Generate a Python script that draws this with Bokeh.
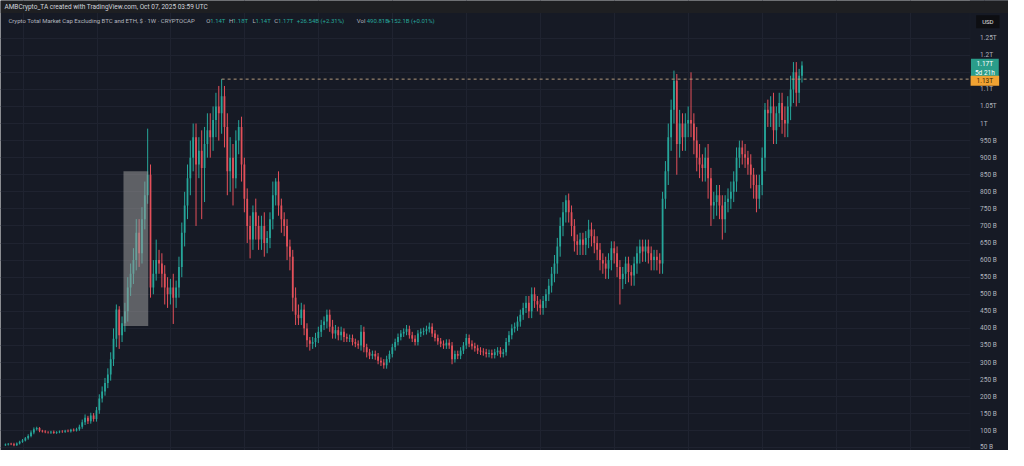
from bokeh.plotting import figure
from bokeh.models import ColumnDataSource, FixedTicker, Label, BoxAnnotation, Range1d, LinearAxis
from bokeh.embed import file_html
from bokeh.resources import INLINE

# ---------------- data (weekly candles, values in billions USD) ----------------
first_open = 58
close = [
    60, 62, 61, 58, 63, 68, 72, 78, 85, 95,
    105, 108, 100, 98, 96, 95, 97, 94, 96, 98,
    97, 100, 99, 103, 101, 105, 112, 125, 138, 128,
    145, 135, 160, 195, 215, 240, 265, 310, 370, 455,
    380, 415, 450, 520, 560, 600, 680, 620, 720, 790,
    850, 520, 560, 600, 590, 560, 520, 500, 520, 490,
    520, 580, 680, 760, 840, 900, 960, 880, 920, 870,
    940, 980, 960, 1010, 1050, 1030, 1080, 990, 860, 900,
    840, 950, 990, 880, 780, 700, 660, 740, 700, 660,
    700, 650, 665, 720, 790, 830, 760, 720, 700, 640,
    610, 490, 440, 430, 455, 400, 365, 355, 360, 372,
    390, 410, 420, 440, 405, 385, 395, 380, 390, 375,
    370, 372, 360, 355, 350, 390, 345, 330, 320, 325,
    318, 305, 300, 292, 310, 325, 345, 360, 375, 385,
    390, 398, 380, 370, 360, 385, 390, 392, 398, 405,
    385, 372, 362, 355, 350, 358, 350, 310, 325, 320,
    335, 350, 372, 355, 348, 342, 335, 332, 330, 325,
    328, 322, 330, 335, 325, 330, 360, 380, 400, 405,
    420, 440, 460, 475, 450, 500, 480, 470, 460, 480,
    500, 525, 560, 590, 640, 700, 740, 775, 740, 700,
    655, 645, 660, 645, 665, 690, 670, 650, 630, 600,
    590, 575, 600, 635, 620, 580, 545, 560, 590, 565,
    555, 590, 620, 640, 625, 640, 620, 600, 610, 600,
    590, 780, 860, 960, 1040, 1125, 940, 1000, 960, 1000,
    1010, 1000, 950, 900, 880, 870, 900, 840, 760, 770,
    790, 760, 720, 770, 780, 800, 830, 900, 930, 910,
    900, 880, 850, 820, 780, 820, 900, 1040, 1030, 1050,
    980, 1030, 1060, 1010, 1000, 1050, 1100, 1150, 1090, 1140,
    1170,
]
upper_wick = [
    3, 2, 3, 4, 3, 3, 4, 4, 5, 6,
    5, 4, 3, 3, 4, 3, 3, 4, 3, 3,
    4, 3, 4, 3, 4, 4, 6, 8, 10, 6,
    8, 7, 10, 12, 15, 15, 18, 20, 30, 15,
    10, 20, 25, 30, 30, 35, 40, 40, 35, 40,
    135, 30, 40, 60, 30, 30, 25, 30, 25, 40,
    20, 30, 30, 40, 40, 50, 40, 40, 40, 60,
    50, 50, 50, 40, 40, 60, 50, 30, 40, 60,
    40, 30, 20, 30, 20, 30, 30, 20, 40, 30,
    30, 40, 20, 20, 40, 10, 30, 20, 20, 20,
    20, 20, 30, 30, 20, 15, 15, 10, 15, 15,
    15, 15, 15, 15, 15, 20, 15, 10, 15, 10,
    10, 10, 10, 10, 10, 20, 15, 10, 10, 10,
    10, 10, 10, 10, 10, 10, 10, 10, 10, 10,
    10, 12, 10, 10, 10, 10, 10, 10, 10, 12,
    10, 10, 10, 10, 10, 10, 10, 10, 10, 10,
    10, 10, 12, 10, 10, 10, 10, 10, 10, 10,
    10, 10, 10, 10, 10, 10, 12, 12, 12, 12,
    15, 15, 15, 20, 20, 20, 20, 15, 15, 15,
    15, 20, 20, 25, 25, 25, 30, 15, 20, 20,
    20, 20, 20, 20, 20, 28, 20, 20, 20, 20,
    20, 20, 20, 20, 20, 20, 20, 20, 20, 20,
    20, 20, 20, 20, 20, 20, 20, 20, 20, 20,
    20, 20, 30, 40, 30, 30, 20, 40, 30, 30,
    40, 140, 30, 40, 40, 30, 30, 40, 30, 30,
    30, 30, 30, 20, 30, 30, 30, 30, 20, 20,
    30, 20, 30, 20, 30, 30, 30, 20, 30, 30,
    40, 20, 30, 30, 40, 30, 40, 30, 30, 20,
    12,
]
lower_wick = [
    2, 3, 3, 3, 2, 3, 3, 3, 4, 4,
    5, 4, 4, 3, 3, 3, 4, 3, 3, 3,
    3, 3, 3, 4, 3, 3, 5, 6, 8, 8,
    7, 8, 8, 10, 12, 12, 15, 18, 20, 25,
    40, 20, 25, 30, 25, 30, 30, 40, 30, 30,
    25, 30, 20, 20, 30, 40, 50, 40, 30, 77,
    30, 30, 30, 40, 40, 50, 40, 180, 40, 150,
    100, 40, 60, 40, 50, 80, 60, 60, 70, 60,
    80, 30, 40, 50, 40, 50, 55, 30, 40, 30,
    30, 40, 30, 30, 30, 30, 30, 40, 30, 40,
    40, 40, 30, 20, 20, 20, 20, 20, 15, 15,
    15, 15, 15, 20, 15, 15, 15, 15, 15, 15,
    10, 10, 10, 10, 10, 15, 15, 15, 10, 10,
    10, 10, 10, 10, 10, 10, 10, 10, 10, 10,
    10, 10, 10, 10, 10, 10, 10, 10, 10, 10,
    10, 10, 10, 10, 10, 10, 10, 15, 10, 10,
    10, 10, 10, 10, 10, 10, 10, 10, 10, 10,
    10, 10, 10, 10, 10, 10, 10, 10, 12, 12,
    12, 15, 15, 15, 20, 20, 20, 20, 20, 20,
    20, 20, 20, 25, 30, 30, 30, 30, 30, 30,
    30, 30, 30, 30, 30, 30, 30, 30, 30, 30,
    30, 30, 30, 30, 30, 30, 75, 30, 30, 30,
    30, 30, 30, 30, 30, 30, 30, 30, 30, 30,
    30, 30, 30, 40, 40, 40, 90, 40, 40, 40,
    40, 40, 40, 40, 40, 40, 40, 60, 60, 40,
    40, 40, 60, 40, 30, 30, 30, 30, 30, 30,
    30, 30, 40, 40, 40, 30, 30, 40, 40, 40,
    40, 40, 40, 40, 40, 40, 40, 40, 40, 30,
    20,
]
ath_index = 76          # week of the Nov-2021 high
ath_level = 1130        # 1.13T
zone_start, zone_end = 41.5, 50.2   # highlighted grey box (week index)
zone_low, zone_high = 407, 860
tick_values = [50 * k for k in range(1, 26)]
tick_labels = {t: (f"{t} B" if t < 1000 else f"{t / 1000:g}T") for t in tick_values}
last_price = "1.17T"
countdown = "5d 21h"
ath_label = "1.13T"

# ---------------- styling ----------------
BG = "#161a25"
GRID = "#1f2330"
GREEN = "#26a69a"
RED = "#e4505a"
TXT = "#b2b5be"
FONT = "Roboto"
W, H = 1008, 450

# reference-pixel helpers for placing annotations
def fx(px):
    return (px - 5) / 2.89

def fy(py):
    return (481 - py) / 0.3536

CHART_RIGHT = fx(985)

opens = [first_open] + close[:-1]
rows = list(zip(range(len(close)), opens, close, upper_wick, lower_wick))
src = ColumnDataSource(dict(
    i=[r[0] for r in rows],
    top=[max(r[1], r[2]) for r in rows],
    bottom=[min(r[1], r[2]) for r in rows],
    high=[max(r[1], r[2]) + r[3] for r in rows],
    low=[min(r[1], r[2]) - r[4] for r in rows],
    color=[GREEN if r[2] >= r[1] else RED for r in rows],
))

p = figure(width=W, height=H, output_backend="svg", toolbar_location=None,
           x_range=Range1d(fx(0), fx(1024)), y_range=Range1d(fy(466), fy(0)),
           x_axis_location=None, y_axis_location=None,
           min_border=0, background_fill_color=BG,
           border_fill_color=BG, outline_line_color=None)

# grids
p.ygrid.ticker = FixedTicker(ticks=tick_values)
p.ygrid.grid_line_color = GRID
p.xgrid.ticker = FixedTicker(ticks=[6.2 + 26 * k for k in range(14)])
p.xgrid.grid_line_color = GRID

# price-scale column background (covers grid, below glyphs/axis)
p.add_layout(BoxAnnotation(left=CHART_RIGHT, fill_color=BG, fill_alpha=1,
                           line_color="#262a35", line_width=1, level="underlay"))

# axis drawn at the chart's right edge
ax = LinearAxis(fixed_location=CHART_RIGHT)
ax.ticker = FixedTicker(ticks=tick_values)
ax.major_label_overrides = tick_labels
ax.axis_line_color = None
ax.major_tick_line_color = None
ax.minor_tick_line_color = None
ax.major_label_standoff = 4
ax.major_label_text_font_size = "6.5px"
ax.major_label_text_color = TXT
ax.major_label_text_font = FONT
p.add_layout(ax, "right")

# candles
p.segment(x0="i", x1="i", y0="low", y1="high", line_color="color", line_width=1, source=src)
p.vbar(x="i", width=0.62, top="top", bottom="bottom", fill_color="color",
       line_color=None, source=src)

# highlighted zone
p.add_layout(BoxAnnotation(left=zone_start, right=zone_end, bottom=zone_low, top=zone_high,
                           fill_color="#9a9a9a", fill_alpha=0.55, line_color=None))

# dashed level line from ATH
p.segment(x0=[ath_index], x1=[CHART_RIGHT], y0=[ath_level], y1=[ath_level],
          line_color="#b39a7c", line_dash="3 3", line_width=1)

# top bar
p.add_layout(BoxAnnotation(bottom=fy(13), fill_color="#1e1f22", fill_alpha=1, line_color=None))
p.add_layout(Label(x=fx(4), y=fy(7), text="AMBCrypto_TA created with TradingView.com, Oct 07, 2025 03:59 UTC",
                   text_font=FONT, text_font_size="6.5px", text_color="#d1d4dc", text_baseline="middle"))

# legend line
legend_parts = [
    (8, "Crypto Total Market Cap Excluding BTC and ETH, $ · 1W · CRYPTOCAP", TXT),
    (209, "O", TXT), (213, "1.14T", GREEN),
    (232, "H", TXT), (236, "1.18T", GREEN),
    (256, "L", TXT), (259, "1.14T", GREEN),
    (278, "C", TXT), (282, "1.17T", GREEN),
    (301, "+26.54B (+2.31%)", GREEN),
    (362, "Vol", TXT), (372, "490.81B", GREEN), (393, "+152.1B (+0.01%)", GREEN),
]
for px, txt, col in legend_parts:
    p.add_layout(Label(x=fx(px), y=fy(21), text=txt, text_font=FONT, text_font_size="6px",
                       text_color=col, text_baseline="middle"))

# right-side price tags
p.add_layout(Label(x=fx(1003), y=fy(22), text="USD", text_font=FONT, text_font_size="6px",
                   text_color="#e0e0e0", text_align="center", text_baseline="middle",
                   background_fill_color="#0d0e12",
                   padding=dict(left=6, right=6, top=3, bottom=3)))
p.add_layout(Label(x=fx(1000), y=fy(70.5), text=f"{last_price}\n{countdown}", text_font=FONT,
                   text_font_size="6.5px", text_color="#ffffff", text_align="center",
                   text_baseline="middle", background_fill_color="#2a9d8a",
                   padding=dict(left=4, right=4, top=1, bottom=1)))
p.add_layout(Label(x=fx(1000), y=fy(83), text=ath_label, text_font=FONT, text_font_size="6.5px",
                   text_color="#3a2500", text_align="center", text_baseline="middle",
                   background_fill_color="#f0a232",
                   padding=dict(left=6, right=6, top=1, bottom=1)))

open("out.html", "w").write(file_html(p, INLINE))
